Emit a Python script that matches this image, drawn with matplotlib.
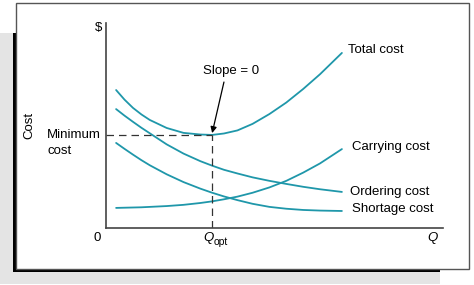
import matplotlib
matplotlib.use("Agg")
import matplotlib.pyplot as plt
from matplotlib.patches import Rectangle

plt.rcParams['font.family'] = ['Liberation Sans', 'DejaVu Sans']

# order quantity samples (shared by all curves) and cost values
q = [0.3, 0.55, 0.8, 1.05, 1.3, 1.8, 2.3, 2.8, 3.15, 3.5, 3.9, 4.35, 4.85, 5.35, 5.85, 6.35, 7.0]
total_cost = [6.73, 6.26, 5.86, 5.54, 5.27, 4.88, 4.64, 4.56, 4.54, 4.61, 4.76, 5.08, 5.56, 6.12, 6.78, 7.50, 8.54]
ordering_cost = [5.80, 5.48, 5.18, 4.89, 4.62, 4.08, 3.63, 3.26, 3.04, 2.84, 2.66, 2.47, 2.30, 2.15, 2.01, 1.89, 1.76]
shortage_cost = [4.15, 3.86, 3.58, 3.31, 3.06, 2.62, 2.24, 1.92, 1.72, 1.54, 1.36, 1.18, 1.03, 0.94, 0.88, 0.85, 0.83]
carrying_cost = [0.98, 0.99, 1.00, 1.01, 1.03, 1.07, 1.13, 1.22, 1.30, 1.40, 1.53, 1.72, 1.98, 2.30, 2.70, 3.15, 3.85]

q_opt = 3.15
min_cost = 4.54

W, H = 474, 285
fig = plt.figure(figsize=(W / 100, H / 100), dpi=100)
fig.patch.set_facecolor('white')


def px_rect(x0, y0, x1, y1, **kw):
    # rectangle given in pixel coords (origin top-left)
    r = Rectangle((x0 / W, 1 - y1 / H), (x1 - x0) / W, (y1 - y0) / H,
                  transform=fig.transFigure, **kw)
    fig.patches.append(r)


# frame: gray shadow, black shadow, white box
px_rect(0, 33, 440, 284, facecolor='#e4e4e4', edgecolor='none', zorder=0)
px_rect(13, 33, 440, 272, facecolor='black', edgecolor='none', zorder=1)
px_rect(16, 3, 469, 269, facecolor='white', edgecolor='#555555', linewidth=1, zorder=2)

ax = fig.add_axes([106 / W, 1 - 228 / H, 337 / W, 205 / H])
ax.set_zorder(3)
ax.patch.set_alpha(0)
ax.set_xlim(0, 10)
ax.set_ylim(0, 10)
for s in ['top', 'right']:
    ax.spines[s].set_visible(False)
for s in ['left', 'bottom']:
    ax.spines[s].set_color('#444444')
    ax.spines[s].set_linewidth(1.2)
ax.set_xticks([])
ax.set_yticks([])

teal = '#1f97aa'
for ys in [total_cost, ordering_cost, shortage_cost, carrying_cost]:
    ax.plot(q, ys, color=teal, linewidth=1.3, solid_capstyle='round', solid_joinstyle='round')

dash = (0, (6, 4))
ax.plot([0, q_opt], [min_cost, min_cost], color='#333333', linewidth=0.9, linestyle=dash)
ax.plot([q_opt, q_opt], [0, min_cost], color='#333333', linewidth=0.9, linestyle=dash)

fs = 9.5
ax.annotate('', xy=(q_opt, 4.63), xytext=(3.50, 7.12),
            arrowprops=dict(arrowstyle='-|>', color='black', lw=0.9, mutation_scale=9,
                            shrinkA=0, shrinkB=0))
ax.text(3.71, 7.66, 'Slope = 0', fontsize=fs, ha='center', va='center')

labels = [('Total cost', 7.18, 8.68), ('Carrying cost', 7.30, 3.95),
          ('Ordering cost', 7.24, 1.76), ('Shortage cost', 7.30, 0.93)]
for txt, x, y in labels:
    ax.text(x, y, txt, fontsize=fs, ha='left', va='center')

ax.text(-0.21, 9.76, '$', fontsize=fs, ha='center', va='center', clip_on=False)
ax.text(-0.27, -0.49, '0', fontsize=fs, ha='center', va='center', clip_on=False)
ax.text(9.70, -0.49, 'Q', fontsize=fs, style='italic', ha='center', va='center', clip_on=False)
ax.text(3.18, -0.49, 'Q', fontsize=fs, style='italic', ha='right', va='center', clip_on=False)
ax.text(3.20, -0.68, 'opt', fontsize=7.5, ha='left', va='center', clip_on=False)

ax.text(-1.75, 4.54, 'Minimum', fontsize=fs, ha='left', va='center', clip_on=False)
ax.text(-1.75, 3.76, 'cost', fontsize=fs, ha='left', va='center', clip_on=False)
ax.text(-2.28, 5.02, 'Cost', fontsize=fs, rotation=90, ha='center', va='center', clip_on=False)

fig.savefig('out.png', dpi=100)
